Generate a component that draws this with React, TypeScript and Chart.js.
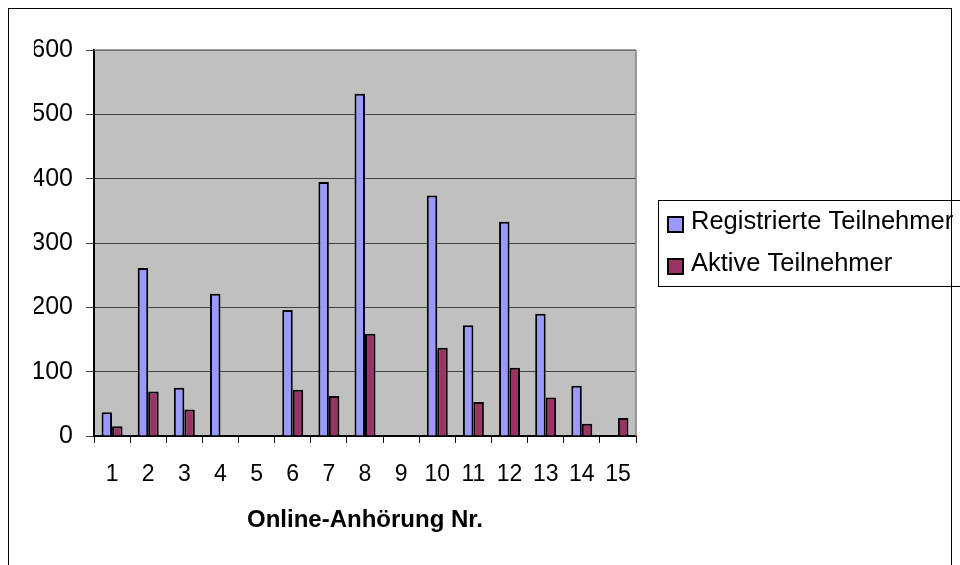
import React, { useEffect, useRef } from "react";
import { Chart, registerables } from "chart.js";

Chart.register(...registerables);

const categories = ["1", "2", "3", "4", "5", "6", "7", "8", "9", "10", "11", "12", "13", "14", "15"];
const registered = [37, 261, 75, 221, null, 196, 395, 532, null, 374, 172, 333, 190, 78, null];
const active = [15, 69, 41, null, null, 72, 62, 159, null, 137, 53, 106, 60, 19, 28];
const seriesNames = ["Registrierte Teilnehmer", "Aktive Teilnehmer"];
const seriesColors = ["#9999FF", "#993366"];
const xTitle = "Online-Anhörung Nr.";
const yMin = 0;
const yMax = 600;
const yStep = 100;

const FONT = "'Liberation Sans', Arial, sans-serif";

const framePlugin = {
  id: "framePlugin",
  beforeDraw(chart: any) {
    const { ctx, chartArea } = chart;
    ctx.save();
    ctx.fillStyle = "#ffffff";
    ctx.fillRect(0, 0, chart.width, chart.height);
    ctx.fillStyle = "#C0C0C0";
    ctx.fillRect(chartArea.left, chartArea.top, chartArea.right - chartArea.left, chartArea.bottom - chartArea.top);
    ctx.strokeStyle = "#000";
    ctx.lineWidth = 1;
    ctx.strokeRect(8.5, 8.5, 943, 620);
    ctx.restore();
  },
  afterDraw(chart: any) {
    const { ctx, chartArea } = chart;
    ctx.save();
    ctx.strokeStyle = "#808080";
    ctx.lineWidth = 1.5;
    ctx.beginPath();
    ctx.moveTo(chartArea.right, chartArea.top);
    ctx.lineTo(chartArea.right, chartArea.bottom);
    ctx.moveTo(chartArea.left, chartArea.top);
    ctx.lineTo(chartArea.right, chartArea.top);
    ctx.stroke();
    // legend
    const bx = 658.5, by = 200.5, bw = 320, bh = 86;
    ctx.strokeStyle = "#000";
    ctx.lineWidth = 1;
    ctx.strokeRect(bx, by, bw, bh);
    const rows = [229, 271];
    ctx.font = `25.5px ${FONT}`;
    ctx.textBaseline = "alphabetic";
    ctx.textAlign = "left";
    chart.data.datasets.forEach((ds: any, i: number) => {
      const base = rows[i];
      ctx.fillStyle = ds.backgroundColor;
      ctx.fillRect(668, base - 12, 15, 15);
      ctx.strokeStyle = "#000";
      ctx.lineWidth = 2;
      ctx.strokeRect(668, base - 12, 15, 15);
      ctx.fillStyle = "#000";
      ctx.fillText(ds.label, 691, base);
    });
    ctx.restore();
  },
};

export default function App() {
  const ref = useRef<HTMLCanvasElement>(null);
  useEffect(() => {
    if (!ref.current) return;
    const chart = new Chart(ref.current, {
      type: "bar",
      data: {
        labels: categories,
        datasets: [
          {
            label: seriesNames[0],
            data: registered,
            backgroundColor: seriesColors[0],
            borderColor: "#000",
            borderWidth: 2,
            categoryPercentage: 0.58,
            barPercentage: 1.0,
          },
          {
            label: seriesNames[1],
            data: active,
            backgroundColor: seriesColors[1],
            borderColor: "#000",
            borderWidth: 2,
            categoryPercentage: 0.58,
            barPercentage: 1.0,
          },
        ],
      },
      options: {
        responsive: false,
        animation: false,
        devicePixelRatio: 1,
        layout: { padding: { left: 34, top: 50, right: 324, bottom: 30 } },
        plugins: {
          legend: { display: false },
          tooltip: { enabled: false },
        },
        scales: {
          x: {
            offset: true,
            afterFit: (s: any) => {
              s.height = 99;
            },
            grid: {
              offset: true,
              drawOnChartArea: false,
              drawTicks: true,
              tickLength: 7,
              tickColor: "#000",
            },
            border: { color: "#000", width: 2 },
            ticks: {
              color: "#000",
              font: { family: FONT, size: 23 },
              padding: 18,
              maxRotation: 0,
              autoSkip: false,
            },
            title: {
              display: true,
              text: xTitle,
              color: "#000",
              font: { family: FONT, size: 24, weight: "bold" },
              padding: { top: 0, bottom: 0 },
            },
          },
          y: {
            min: yMin,
            max: yMax,
            afterFit: (s: any) => {
              s.width = 60;
            },
            grid: {
              color: "#404040",
              lineWidth: 1,
              tickLength: 8,
              tickColor: "#404040",
            },
            border: { color: "#000", width: 2 },
            ticks: {
              stepSize: yStep,
              color: "#000",
              font: { family: FONT, size: 25 },
              padding: 13,
            },
          },
        },
      },
      plugins: [framePlugin],
    });
    return () => chart.destroy();
  }, []);
  return (
    <div style={{ position: "absolute", left: 0, top: 0, width: 960, height: 565 }}>
      <canvas ref={ref} width={960} height={565} />
    </div>
  );
}
